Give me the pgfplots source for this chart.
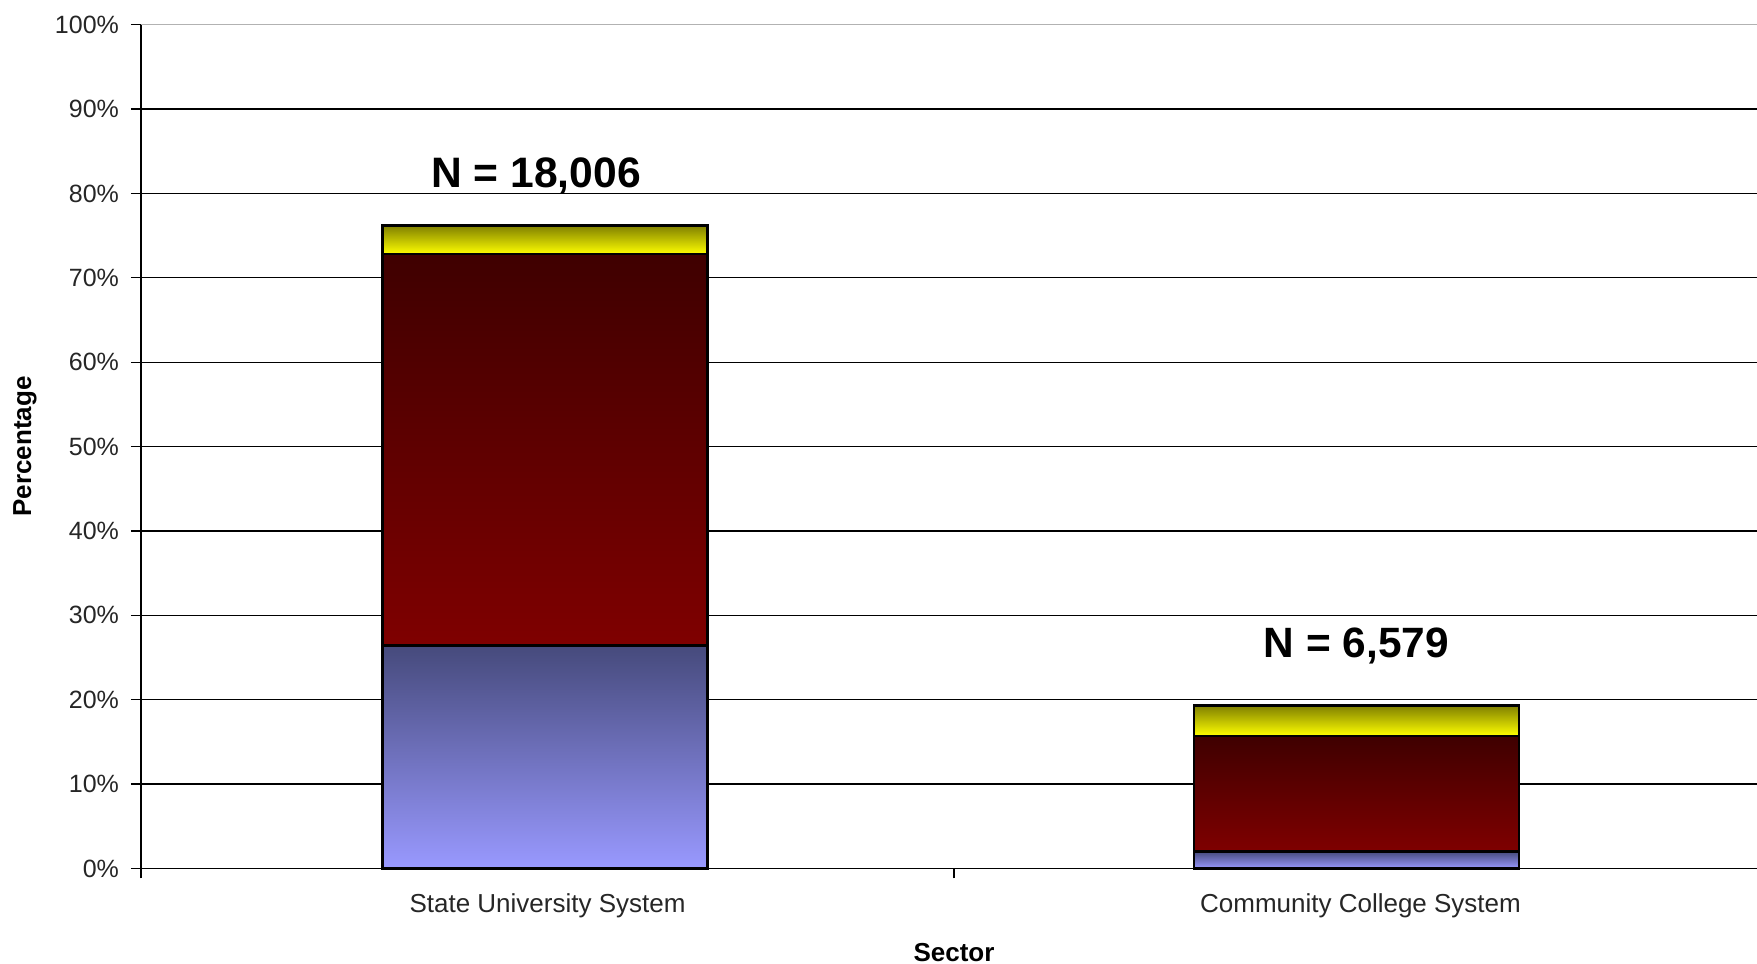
\documentclass[border=0pt]{standalone}
\usepackage{pgfplots}
\pgfplotsset{compat=1.18}
\usepackage{fontspec}
\setmainfont{Liberation Sans}

\definecolor{bluetop}{HTML}{464A7C}
\definecolor{bluebot}{HTML}{9999FF}
\definecolor{redtop}{HTML}{3F0000}
\definecolor{redbot}{HTML}{7F0000}
\definecolor{yeltop}{HTML}{808000}
\definecolor{yelbot}{HTML}{FFFF00}

\pgfplotsset{
  base/.style={
    at={(0,0)}, anchor=south west,
    scale only axis, width=813pt, height=421.85pt,
    ybar stacked, bar width=0.4,
    xmin=-0.5, xmax=1.5, ymin=0, ymax=100,
    clip=false,
  },
  seg/.style={draw=black, line width=1.3pt},
}

\begin{document}
\begin{tikzpicture}
\path[use as bounding box] (-70.5pt,-47.35pt) rectangle (808pt,434.2pt);
% axis with frame, grid, first category
\begin{axis}[
  base,
  axis x line*=bottom, axis y line*=left,
  axis line style={black, line width=0.8pt},
  xtick={-0.5,0.5,1.5}, x tick label as interval,
  xticklabels={State University System, Community College System},
  ytick={0,10,...,90},
  extra y ticks={100},
  extra y tick style={major grid style={gray!60, line width=0.8pt}},
  /pgf/number format/assume math mode=true,
  yticklabel={\pgfmathprintnumber{\tick}\%},
  ymajorgrids,
  major grid style={black, line width=0.6pt},
  tick align=outside, major tick length=5pt,
  tick style={black, line width=0.6pt},
  ticklabel style={font=\fontsize{12.5}{15}\selectfont, text=black!85},
  xticklabel style={yshift=-4pt, font=\fontsize{13}{15}\selectfont},
  yticklabel style={xshift=-2.5pt},
  xlabel={Sector}, ylabel={Percentage},
  xlabel style={at={(axis description cs:0.5,-0.0992)}, anchor=center, font=\bfseries\fontsize{13}{15}\selectfont},
  ylabel style={at={(axis description cs:-0.0713,0.5)}, anchor=center, font=\bfseries\fontsize{13}{15}\selectfont},
]
\addplot[seg, top color=bluetop, bottom color=bluebot] coordinates {(-0.003,26.4)};
\addplot[seg, top color=redtop, bottom color=redbot] coordinates {(-0.003,46.4)};
\addplot[seg, top color=yeltop, bottom color=yelbot] coordinates {(-0.003,3.4)};
\node[font=\bfseries\fontsize{21.3}{25}\selectfont] at (axis cs:-0.014,82.1) {N = 18,006};
\end{axis}
% second category, own stack so each bar has its own gradient
\begin{axis}[base, hide axis]
\addplot[seg, top color=bluetop, bottom color=bluebot] coordinates {(0.995,2.0)};
\addplot[seg, top color=redtop, bottom color=redbot] coordinates {(0.995,13.7)};
\addplot[seg, top color=yeltop, bottom color=yelbot] coordinates {(0.995,3.6)};
\node[font=\bfseries\fontsize{21.2}{25}\selectfont] at (axis cs:0.995,26.4) {N = 6,579};
\end{axis}
\end{tikzpicture}
\end{document}
